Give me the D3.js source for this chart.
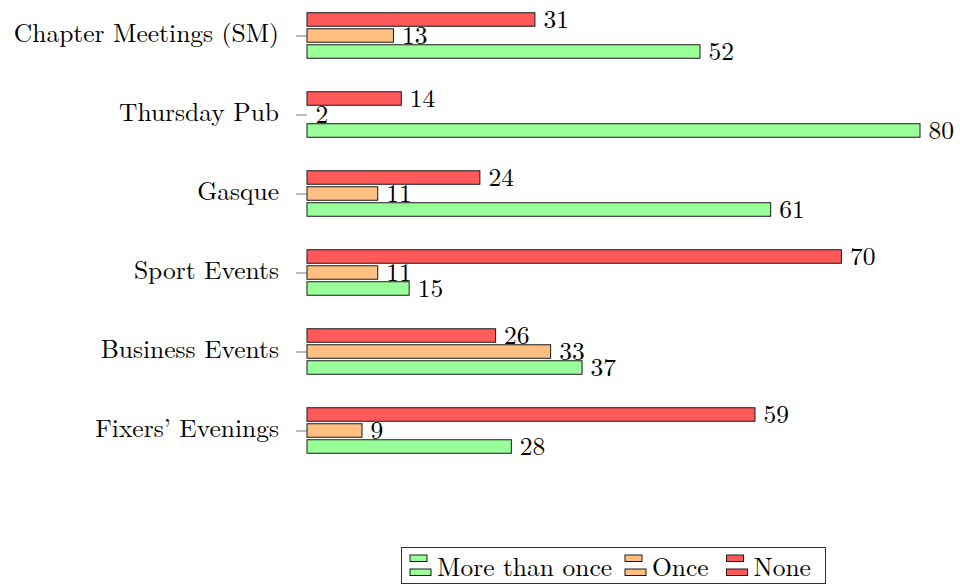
<!DOCTYPE html>
<html>
<head>
<meta charset="utf-8">
<script src="https://cdn.jsdelivr.net/npm/d3@7"></script>
<style>
  html, body { margin: 0; padding: 0; background: #fff; }
  svg { display: block; }
  text { font-family: "Latin Modern Roman", "CMU Serif", "Liberation Serif", serif; fill: #000; }
</style>
</head>
<body>
<div id="chart"></div>
<script>
// categories, top to bottom
const categories = [
  "Chapter Meetings (SM)",
  "Thursday Pub",
  "Gasque",
  "Sport Events",
  "Business Events",
  "Fixers\u2019 Evenings"
];
const seriesNames = ["More than once", "Once", "None"];
const moreThanOnce = [52, 80, 61, 15, 37, 28];
const once = [13, 2, 11, 11, 33, 9];
const none = [31, 14, 24, 70, 26, 59];
const seriesColors = ["#99ff99", "#ffbf80", "#ff5959"];

const width = 960, height = 586;
const fontSize = 25.5;

const svg = d3.select("#chart").append("svg")
  .attr("width", width)
  .attr("height", height);

// axis limits follow the data min / max, like pgfplots does
const allValues = moreThanOnce.concat(once, none);
const x = d3.scaleLinear()
  .domain([d3.min(allValues), d3.max(allValues)])
  .range([307, 920]);

const y = d3.scalePoint()
  .domain(categories)
  .range([35.5, 430.5]);

const barH = 13.5;
const barStep = 16;
// None on top, Once in the middle, More than once at the bottom
const shifts = [barStep, 0, -barStep];
const series = [moreThanOnce, once, none];

// ticks on the left side
const yAxis = d3.axisLeft(y).tickSize(11).tickSizeOuter(0).tickFormat("");
const axisG = svg.append("g")
  .attr("transform", `translate(${x.range()[0]},0)`)
  .call(yAxis);
axisG.select(".domain").remove();
axisG.selectAll(".tick line").attr("stroke", "#7a7a7a").attr("stroke-width", 1);

// category labels
svg.append("g").selectAll("text")
  .data(categories)
  .join("text")
  .attr("x", 279)
  .attr("y", d => y(d) + 6.5)
  .attr("text-anchor", "end")
  .attr("font-size", fontSize)
  .text(d => d);

// bars
series.forEach((vals, si) => {
  const g = svg.append("g");
  const rows = categories.map((c, i) => ({ cat: c, v: vals[i] }));
  g.selectAll("rect")
    .data(rows)
    .join("rect")
    .attr("x", x.range()[0])
    .attr("y", d => y(d.cat) + shifts[si] - barH / 2)
    .attr("width", d => x(d.v) - x.range()[0])
    .attr("height", barH)
    .attr("fill", seriesColors[si])
    .attr("stroke", "#1a1a1a")
    .attr("stroke-width", 1);

  g.selectAll("text")
    .data(rows)
    .join("text")
    .attr("x", d => x(d.v) + 8.5)
    .attr("y", d => y(d.cat) + shifts[si] + 8.5)
    .attr("font-size", fontSize)
    .text(d => d.v);
});

// legend
const legendBox = { x: 401.5, y: 547.5, w: 424, h: 36 };
const legend = svg.append("g");
legend.append("rect")
  .attr("x", legendBox.x).attr("y", legendBox.y)
  .attr("width", legendBox.w).attr("height", legendBox.h)
  .attr("fill", "#fff").attr("stroke", "#333").attr("stroke-width", 1);

const legendX = [410, 625, 726.5];
seriesNames.forEach((name, i) => {
  const lx = legendX[i];
  const item = legend.append("g");
  item.append("rect")
    .attr("x", lx).attr("y", 555)
    .attr("width", 17).attr("height", 6.5)
    .attr("fill", seriesColors[i]).attr("stroke", "#1a1a1a").attr("stroke-width", 1);
  item.append("rect")
    .attr("x", lx).attr("y", 569)
    .attr("width", 21).attr("height", 6.5)
    .attr("fill", seriesColors[i]).attr("stroke", "#1a1a1a").attr("stroke-width", 1);
  item.append("text")
    .attr("x", lx + 27)
    .attr("y", 576)
    .attr("font-size", fontSize)
    .text(name);
});
</script>
</body>
</html>
